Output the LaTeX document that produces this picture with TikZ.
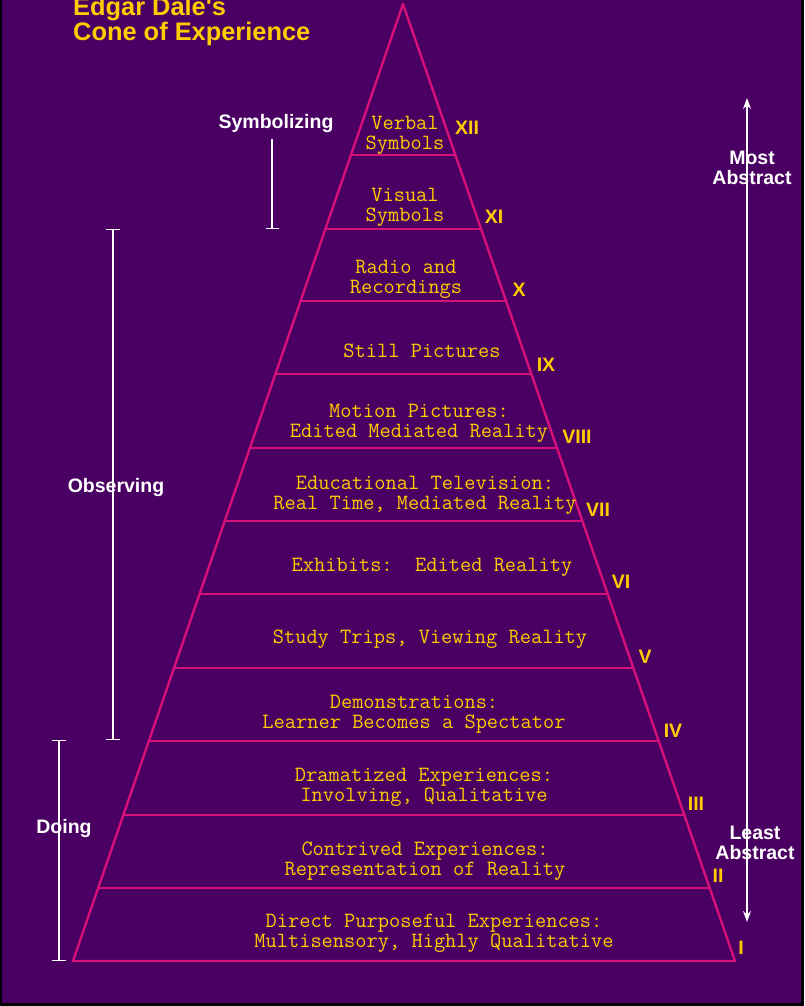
\documentclass[tikz,border=0pt]{standalone}
\usepackage{fontspec}
\setmainfont{Liberation Sans}
\usetikzlibrary{calc,arrows.meta}
\definecolor{conebg}{RGB}{74,0,98}
\definecolor{conerim}{RGB}{214,16,122}
\definecolor{conegold}{RGB}{255,204,0}
\tikzset{
	rim/.style={conerim,line width=2.4pt},
	level/.style={text=conegold,font=\ttfamily\fontsize{21.8}{20}\selectfont,align=center,inner sep=0pt},
	numeral/.style={text=conegold,font=\bfseries\fontsize{19.5}{20}\selectfont,inner sep=0pt},
	side/.style={text=white,font=\bfseries\fontsize{19.5}{20}\selectfont,align=center,inner sep=0pt},
	title/.style={text=conegold,font=\bfseries\fontsize{25.4}{26}\selectfont,inner sep=0pt,anchor=base west},
	bracket/.style={white,line width=1.3pt},
}
\begin{document}
\begin{tikzpicture}[x=1pt,y=-1pt,line join=round]
				\useasboundingbox (0,0) rectangle (804,1006);
				\fill[conebg] (0,0) rectangle (804,1006);
				\draw[black,line width=2.5pt] (1,0) -- (1,1004.5) -- (802.5,1004.5) -- (802.5,0);
				% cone
				\coordinate (T) at (403,4);
				\coordinate (L) at (73,961);
				\coordinate (R) at (735,961);
				\draw[rim] (L) -- (T) -- (R) -- cycle;
				\draw[rim] ($(T)!0.1578!(L)$) -- ($(T)!0.1578!(R)$);
				\draw[rim] ($(T)!0.2351!(L)$) -- ($(T)!0.2351!(R)$);
				\draw[rim] ($(T)!0.3103!(L)$) -- ($(T)!0.3103!(R)$);
				\draw[rim] ($(T)!0.3866!(L)$) -- ($(T)!0.3866!(R)$);
				\draw[rim] ($(T)!0.4639!(L)$) -- ($(T)!0.4639!(R)$);
				\draw[rim] ($(T)!0.5402!(L)$) -- ($(T)!0.5402!(R)$);
				\draw[rim] ($(T)!0.6165!(L)$) -- ($(T)!0.6165!(R)$);
				\draw[rim] ($(T)!0.6938!(L)$) -- ($(T)!0.6938!(R)$);
				\draw[rim] ($(T)!0.7701!(L)$) -- ($(T)!0.7701!(R)$);
				\draw[rim] ($(T)!0.8474!(L)$) -- ($(T)!0.8474!(R)$);
				\draw[rim] ($(T)!0.9237!(L)$) -- ($(T)!0.9237!(R)$);
				% levels
				\node[level] (verbal) at (405,135) {Verbal\\Symbols};
				\node[level] (visual) at (405,207) {Visual\\Symbols};
				\node[level] (radio) at (406,279) {Radio and\\Recordings};
				\node[level] (still) at (422,351) {Still Pictures};
				\node[level] (motion) at (419,423) {Motion Pictures:\\Edited Mediated Reality};
				\node[level] (tv) at (425,495) {Educational Television:\\Real Time, Mediated Reality};
				\node[level] (exhibits) at (432,567) {Exhibits:\ \ Edited Reality};
				\node[level] (trips) at (430,639) {Study Trips, Viewing Reality};
				\node[level] (demo) at (414,714) {Demonstrations:\\Learner Becomes a Spectator};
				\node[level] (drama) at (424,787) {Dramatized Experiences:\\Involving, Qualitative};
				\node[level] (contrived) at (425,861) {Contrived Experiences:\\Representation of Reality};
				\node[level] (direct) at (434,933) {Direct Purposeful Experiences:\\Multisensory, Highly Qualitative};
				% numerals
				\node[numeral] (n12) at (467,128) {XII};
				\node[numeral] (n11) at (494,217) {XI};
				\node[numeral] (n10) at (519,290) {X};
				\node[numeral] (n9) at (546,365) {IX};
				\node[numeral] (n8) at (577,437) {VIII};
				\node[numeral] (n7) at (598,510) {VII};
				\node[numeral] (n6) at (621,582) {VI};
				\node[numeral] (n5) at (645,657) {V};
				\node[numeral] (n4) at (673,731) {IV};
				\node[numeral] (n3) at (696,804) {III};
				\node[numeral] (n2) at (718,876) {II};
				\node[numeral] (n1) at (741,948) {I};
				% title
				\node[title] (t1) at (73,16) {Edgar Dale\textquotesingle s};
				\node[title] (t2) at (73,41) {Cone of Experience};
				% brackets
				\coordinate (S1) at (272,139);
				\coordinate (S2) at (272,229);
				\coordinate (O1) at (113,229);
				\coordinate (O2) at (113,740);
				\coordinate (D1) at (59,740);
				\coordinate (D2) at (59,961);
				\draw[bracket,-{Bar[width=13pt]}] (S1) -- (S2);
				\draw[bracket,{Bar[width=14pt]}-{Bar[width=14pt]}] (O1) -- (O2);
				\draw[bracket,{Bar[width=14pt]}-{Bar[width=14pt]}] (D1) -- (D2);
				\node[side] (symb) at (276,124) {Symbolizing};
				\node[side] (obs) at (116,487) {Observing};
				\node[side] (doing) at (64,828) {Doing};
				% abstraction arrow
				\coordinate (U) at (747,98);
				\coordinate (V) at (747,922);
				\draw[white,line width=1.5pt,{Stealth[length=11pt,width=8pt]}-{Stealth[length=11pt,width=8pt]}] (U) -- (V);
				\node[side] (most) at (752,168) {Most\\Abstract};
				\node[side] (least) at (755,843) {Least\\Abstract};
		\end{tikzpicture}
\end{document}
